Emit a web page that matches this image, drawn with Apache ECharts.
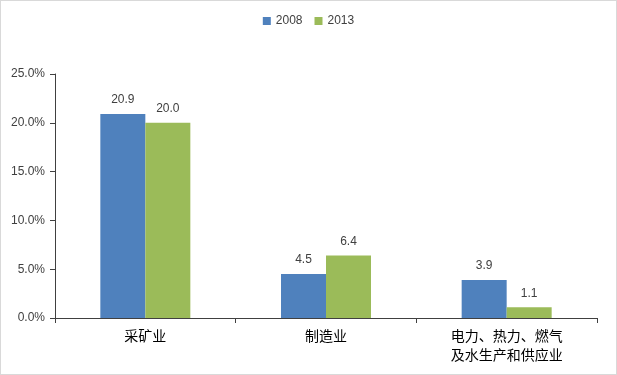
<!DOCTYPE html>
<html>
<head>
<meta charset="utf-8">
<script src="https://cdn.jsdelivr.net/npm/echarts@6/dist/echarts.min.js"></script>
<style>
html, body { margin: 0; padding: 0; background: #fff; }
#chartContainer { width: 615px; height: 373px; border: 1px solid #d9d9d9; }
</style>
</head>
<body>
<div id="chartContainer"></div>
<script>
const categories = ['采矿业', '制造业', '电力、热力、燃气\n及水生产和供应业'];
const years = ['2008', '2013'];
const values2008 = [20.9, 4.5, 3.9];
const values2013 = [20.0, 6.4, 1.1];

const chart = echarts.init(document.getElementById('chartContainer'), null, {renderer: 'canvas'});
const labelStyle = {
    show: true,
    position: 'top',
    distance: 8,
    color: '#404040',
    fontSize: 12,
    fontFamily: 'Liberation Sans',
    formatter: function (p) {
        return p.value.toFixed(1);
    }
};
const option = {
    animation: false,
    legend: {
        top: 9,
        left: 'center',
        itemWidth: 8,
        itemHeight: 8,
        itemGap: 12,
        icon: 'rect',
        textStyle: {color: '#404040', fontSize: 12, fontFamily: 'Liberation Sans'},
        data: years
    },
    grid: {left: 54, right: 19, top: 73, bottom: 56, containLabel: false},
    xAxis: {
        type: 'category',
        data: categories,
        axisLine: {lineStyle: {color: '#404040', width: 1}},
        axisTick: {show: true, alignWithLabel: false, length: 5, lineStyle: {color: '#404040'}},
        axisLabel: {color: '#000', fontSize: 14, lineHeight: 19, margin: 8, fontFamily: 'Noto Sans CJK SC'}
    },
    yAxis: {
        type: 'value',
        min: 0,
        max: 25,
        interval: 5,
        splitLine: {show: false},
        axisLine: {show: true, lineStyle: {color: '#404040', width: 1}},
        axisTick: {show: true, length: 5, lineStyle: {color: '#404040'}},
        axisLabel: {
            color: '#404040',
            fontSize: 12,
            margin: 10,
            fontFamily: 'Liberation Sans',
            formatter: function (v) {
                return v.toFixed(1) + '%';
            }
        }
    },
    series: [
        {
            name: years[0],
            type: 'bar',
            data: values2008,
            barWidth: 45,
            barGap: '0%',
            itemStyle: {color: '#4F81BD'},
            label: labelStyle
        },
        {
            name: years[1],
            type: 'bar',
            data: values2013,
            barWidth: 45,
            itemStyle: {color: '#9BBB59'},
            label: labelStyle
        }
    ]
};
chart.setOption(option);
</script>
</body>
</html>
